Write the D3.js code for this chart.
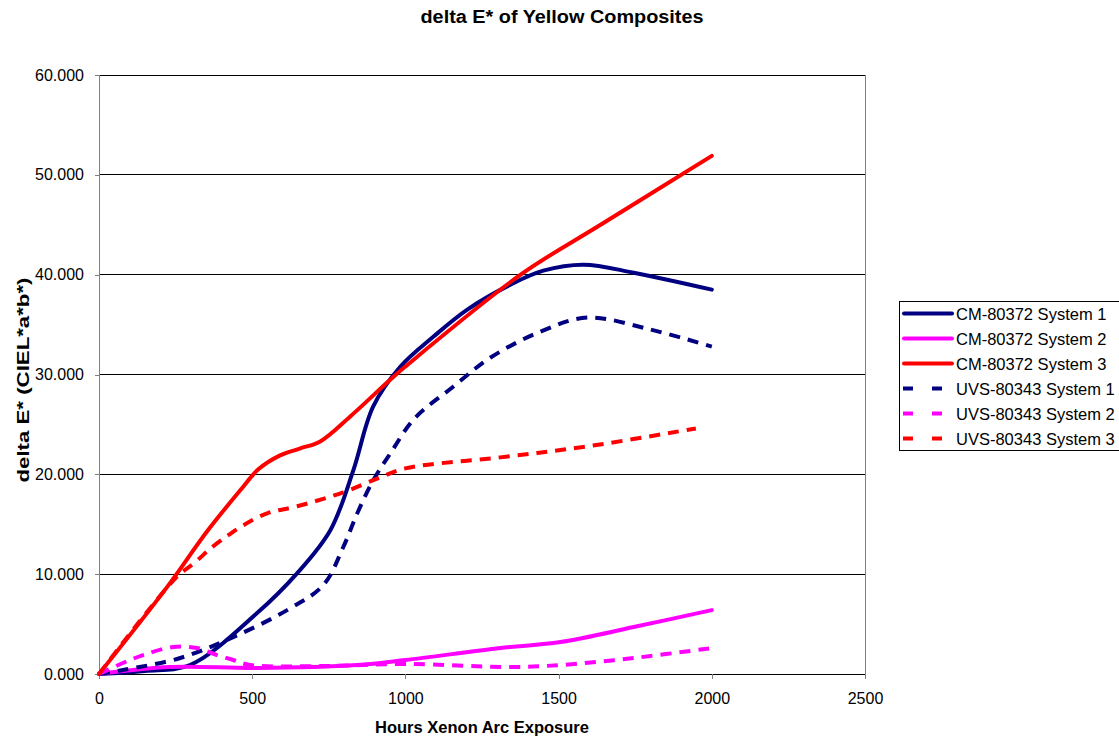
<!DOCTYPE html>
<html>
<head>
<meta charset="utf-8">
<script src="https://cdn.jsdelivr.net/npm/d3@7"></script>
<style>
  html, body { margin: 0; padding: 0; background: #fff; }
  svg text { font-family: Arial, "Liberation Sans", sans-serif; }
</style>
</head>
<body>
<svg id="chart" width="1119" height="738"></svg>
<script>
// Hours of xenon arc exposure vs. colour change (delta E*)
const cmSys1Hours = [0, 150, 297, 516, 647, 755, 830, 895, 984, 1092, 1202, 1343, 1450, 1582, 1745, 2000];
const cmSys1Values = [0, 0.3, 0.9, 6.1, 10.1, 14.4, 20.4, 26.8, 30.8, 33.8, 36.5, 39.0, 40.4, 41.0, 40.2, 38.5];

const cmSys2Hours = [0, 232, 516, 843, 1000, 1310, 1506, 1745, 2000];
const cmSys2Values = [0, 0.7, 0.6, 0.9, 1.4, 2.6, 3.2, 4.7, 6.4];

const cmSys3Hours = [0, 222, 353, 461, 520, 591, 657, 722, 820, 951, 1000, 1376, 1637, 2000];
const cmSys3Values = [0, 8.7, 14.3, 18.4, 20.5, 21.9, 22.6, 23.3, 25.8, 29.5, 30.8, 40.0, 45.0, 51.9];

const uvsSys1Hours = [0, 78, 265, 438, 614, 732, 797, 843, 895, 951, 1030, 1157, 1278, 1441, 1594, 1800, 2000];
const uvsSys1Values = [0, 0.4, 1.6, 3.7, 6.4, 8.9, 12.7, 16.1, 19.4, 22.1, 25.6, 28.8, 31.7, 34.3, 35.7, 34.5, 32.8];

const uvsSys2Hours = [0, 78, 144, 242, 320, 385, 438, 493, 732, 1006, 1343, 1506, 1745, 2000];
const uvsSys2Values = [0, 1.1, 1.9, 2.7, 2.6, 1.9, 1.4, 0.9, 0.8, 1.0, 0.7, 0.9, 1.6, 2.6];

const uvsSys3Hours = [0, 250, 314, 369, 422, 471, 549, 647, 797, 918, 1000, 1310, 1594, 1948];
const uvsSys3Values = [0, 9.6, 11.2, 12.7, 13.9, 14.9, 16.1, 16.8, 18.2, 19.7, 20.6, 21.7, 22.8, 24.6];

const seriesNames = ["CM-80372 System 1", "CM-80372 System 2", "CM-80372 System 3",
                     "UVS-80343 System 1", "UVS-80343 System 2", "UVS-80343 System 3"];
const xTicks = [0, 500, 1000, 1500, 2000, 2500];
const yTicks = [0, 10, 20, 30, 40, 50, 60];

const chartTitle = "delta E* of Yellow Composites";
const xTitle = "Hours Xenon Arc Exposure";
const yTitle = "delta E* (CIEL*a*b*)";

const series = [
  { name: seriesNames[0], hours: cmSys1Hours, values: cmSys1Values, color: "#000080", dashed: false },
  { name: seriesNames[1], hours: cmSys2Hours, values: cmSys2Values, color: "#FF00FF", dashed: false },
  { name: seriesNames[2], hours: cmSys3Hours, values: cmSys3Values, color: "#FF0000", dashed: false },
  { name: seriesNames[3], hours: uvsSys1Hours, values: uvsSys1Values, color: "#000080", dashed: true },
  { name: seriesNames[4], hours: uvsSys2Hours, values: uvsSys2Values, color: "#FF00FF", dashed: true },
  { name: seriesNames[5], hours: uvsSys3Hours, values: uvsSys3Values, color: "#FF0000", dashed: true }
];

const svg = d3.select("#chart");
const plot = { left: 99, right: 865, top: 75, bottom: 674 };

const x = d3.scaleLinear().domain([0, 2500]).range([plot.left, plot.right]);
const y = d3.scaleLinear().domain([0, 60]).range([plot.bottom, plot.top]);

// Title
svg.append("text")
  .attr("x", 562).attr("y", 23)
  .attr("text-anchor", "middle")
  .attr("font-size", 18).attr("font-weight", "bold")
  .attr("textLength", 283).attr("lengthAdjust", "spacingAndGlyphs")
  .text(chartTitle);

// Horizontal gridlines
svg.append("g")
  .selectAll("line")
  .data(yTicks.filter(d => d > 0))
  .join("line")
  .attr("x1", plot.left).attr("x2", plot.right)
  .attr("y1", d => y(d)).attr("y2", d => y(d))
  .attr("stroke", "#000").attr("stroke-width", 1)
  .attr("shape-rendering", "crispEdges");

// Right border of the plot area
svg.append("line")
  .attr("x1", plot.right).attr("x2", plot.right)
  .attr("y1", plot.top).attr("y2", plot.bottom)
  .attr("stroke", "#808080").attr("stroke-width", 1)
  .attr("shape-rendering", "crispEdges");

// Axes
const yAxis = d3.axisLeft(y).tickValues(yTicks).tickFormat(d3.format(".3f")).tickSize(4).tickPadding(11);
const xAxis = d3.axisBottom(x).tickValues(xTicks).tickFormat(d3.format("d")).tickSize(5).tickPadding(14);

const gy = svg.append("g").attr("transform", `translate(${plot.left},0)`).call(yAxis);
const gx = svg.append("g").attr("transform", `translate(0,${plot.bottom})`).call(xAxis);
[gx, gy].forEach(g => {
  g.select(".domain").attr("stroke", "#808080").attr("shape-rendering", "crispEdges");
  g.selectAll(".tick line").attr("stroke", "#808080").attr("shape-rendering", "crispEdges");
  g.selectAll(".tick text").attr("font-size", 16).attr("fill", "#000")
    .attr("font-family", "Arial, 'Liberation Sans', sans-serif");
});
gx.select(".domain").attr("stroke", "#000");

// Axis titles
svg.append("text")
  .attr("x", 482).attr("y", 733)
  .attr("text-anchor", "middle")
  .attr("font-size", 16.5).attr("font-weight", "bold")
  .text(xTitle);

svg.append("text")
  .attr("transform", `translate(29,380) rotate(-90)`)
  .attr("text-anchor", "middle")
  .attr("font-size", 17).attr("font-weight", "bold")
  .attr("textLength", 205).attr("lengthAdjust", "spacingAndGlyphs")
  .text(yTitle);

// Smoothed series lines
const line = d3.line()
  .x(d => x(d[0]))
  .y(d => y(d[1]))
  .curve(d3.curveCatmullRom.alpha(0.5));

svg.append("g")
  .selectAll("path")
  .data(series)
  .join("path")
  .attr("d", s => line(s.hours.map((h, i) => [h, s.values[i]])))
  .attr("fill", "none")
  .attr("stroke", s => s.color)
  .attr("stroke-width", 4)
  .attr("stroke-linecap", s => s.dashed ? "butt" : "round")
  .attr("stroke-linejoin", "round")
  .attr("stroke-dasharray", s => s.dashed ? "11,8" : null);

// Legend
const legend = svg.append("g").attr("transform", "translate(899,301)");
legend.append("rect")
  .attr("x", 0.5).attr("y", 0.5)
  .attr("width", 230).attr("height", 149)
  .attr("fill", "#fff").attr("stroke", "#000").attr("stroke-width", 1);

const rows = legend.selectAll("g.row")
  .data(series)
  .join("g")
  .attr("class", "row")
  .attr("transform", (d, i) => `translate(0,${12.5 + i * 25})`);

rows.append("line")
  .attr("x1", d => d.dashed ? 4 : 5).attr("x2", d => d.dashed ? 44 : 53)
  .attr("y1", 0).attr("y2", 0)
  .attr("stroke", d => d.color)
  .attr("stroke-width", 4)
  .attr("stroke-linecap", d => d.dashed ? "butt" : "round")
  .attr("stroke-dasharray", d => d.dashed ? "10,19" : null);

rows.append("text")
  .attr("x", 57).attr("y", 6)
  .attr("font-size", 16.5)
  .text(d => d.name);
</script>
</body>
</html>
